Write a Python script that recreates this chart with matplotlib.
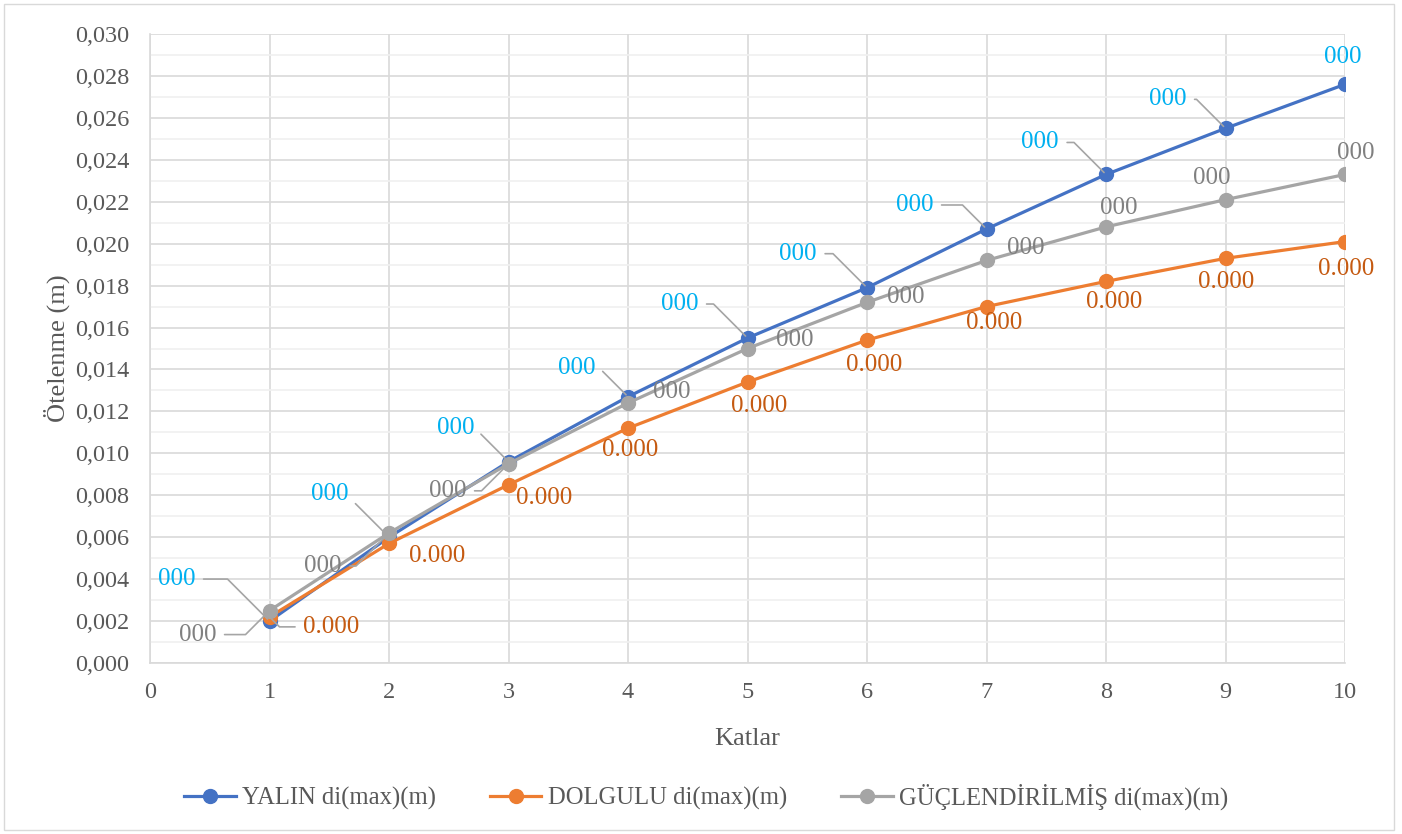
import matplotlib.pyplot as plt
from matplotlib.ticker import MultipleLocator, FuncFormatter
from matplotlib.patches import Rectangle

plt.rcParams['font.family'] = ['Liberation Serif', 'DejaVu Serif']

katlar = [1, 2, 3, 4, 5, 6, 7, 8, 9, 10]
yalin = [0.0020, 0.0060, 0.0096, 0.0127, 0.0155, 0.0179, 0.0207, 0.0233, 0.0255, 0.0276]
dolgulu = [0.0022, 0.0057, 0.0085, 0.0112, 0.0134, 0.0154, 0.0170, 0.0182, 0.0193, 0.0201]
guclendirilmis = [0.0025, 0.0062, 0.0095, 0.0124, 0.0150, 0.0172, 0.0192, 0.0208, 0.0221, 0.0233]

# etiket yazilari (grafikte gorundugu gibi)
yalin_etiket = ["000"] * 10
dolgulu_etiket = ["0.000"] * 10
guc_etiket = ["000"] * 10

# etiket kaydirmalari (piksel)
yalin_ofset = [(-93, 42), (-59, 43), (-53, 34), (-51, 29), (-68, 34),
               (-69, 34), (-72, 24), (-66, 32), (-58, 29), (-2, 27)]
yalin_kilavuz = [True] * 9 + [False]
guc_ofset = [(-72, -24), (-66, -33), (-61, -27), (44, 11), (47, 9),
             (39, 5), (39, 12), (13, 19), (-14, 22), (11, 21)]
guc_kilavuz = [True, True, True] + [False] * 7
dolgu_ofset = [(62, -10), (48, -13), (36, -13), (2, -22), (12, -24),
               (7, -25), (8, -16), (8, -21), (1, -24), (1, -27)]
dolgu_kilavuz = [True] + [False] * 9

fig = plt.figure(figsize=(14.02, 8.34), dpi=100)
ax = fig.add_axes([150 / 1402, 1 - 663 / 834, 1195 / 1402, 629 / 834])

fig.patches.append(Rectangle((4 / 1402, 4 / 834), 1390 / 1402, 826 / 834,
                             transform=fig.transFigure, fill=False,
                             edgecolor="#D9D9D9", linewidth=1))

ax.plot(katlar, yalin, marker="o", color="#4472C4", lw=2.3, ms=10,
        label="YALIN di(max)(m)", zorder=3)
ax.plot(katlar, dolgulu, marker="o", color="#ED7D31", lw=2.3, ms=10,
        label="DOLGULU di(max)(m)", zorder=3)
ax.plot(katlar, guclendirilmis, marker="o", color="#A5A5A5", lw=2.3, ms=10,
        label="GÜÇLENDİRİLMİŞ di(max)(m)", zorder=3)


def etiketle(xs, ys, yazilar, ofsetler, kilavuzlar, renk, aciB):
    for x, y, t, o, k in zip(xs, ys, yazilar, ofsetler, kilavuzlar):
        ok = None
        if k:
            relx = 1 if o[0] < 0 else 0
            ok = dict(arrowstyle="-", color="#A5A5A5", lw=1.2,
                      relpos=(relx, 0.5), shrinkA=4, shrinkB=2,
                      connectionstyle="angle,angleA=0,angleB=%d,rad=0" % aciB)
        ax.annotate(t, (x, y), xytext=o, textcoords="offset pixels",
                    ha="center", va="center", fontsize=18, color=renk,
                    arrowprops=ok, zorder=4)


etiketle(katlar, yalin, yalin_etiket, yalin_ofset, yalin_kilavuz, "#00B0F0", -45)
etiketle(katlar, guclendirilmis, guc_etiket, guc_ofset, guc_kilavuz, "#808080", 45)
etiketle(katlar, dolgulu, dolgulu_etiket, dolgu_ofset, dolgu_kilavuz, "#C55A11", -45)

ax.set_xlim(0, 10)
ax.set_ylim(0, 0.030)
ax.xaxis.set_major_locator(MultipleLocator(1))
ax.yaxis.set_major_locator(MultipleLocator(0.002))
ax.yaxis.set_minor_locator(MultipleLocator(0.001))
ax.yaxis.set_major_formatter(FuncFormatter(lambda v, p: ("%.3f" % v).replace(".", ",")))
ax.grid(which="major", color="#D9D9D9", lw=1.2)
ax.grid(which="minor", axis="y", color="#F0F0F0", lw=1.2)
ax.set_axisbelow(True)
for s in ["top", "right"]:
    ax.spines[s].set_visible(False)
for s in ["left", "bottom"]:
    ax.spines[s].set_color("#D9D9D9")
    ax.spines[s].set_linewidth(1.2)
ax.tick_params(which="both", length=0, labelsize=17.5, labelcolor="#595959")
ax.tick_params(axis="y", pad=15)
ax.tick_params(axis="x", pad=14)

ax.set_xlabel("Katlar", fontsize=19, color="#595959", labelpad=18)
ax.set_ylabel("Ötelenme (m)", fontsize=19, color="#595959", labelpad=3)

ax.legend(loc="center", bbox_to_anchor=((706 - 150) / 1195, -(797 - 663) / 629),
          ncol=3, frameon=False, fontsize=17.7, handlelength=2.1,
          handletextpad=0.25, columnspacing=2.2, labelcolor="#595959")

fig.savefig("out.png", dpi=100)
